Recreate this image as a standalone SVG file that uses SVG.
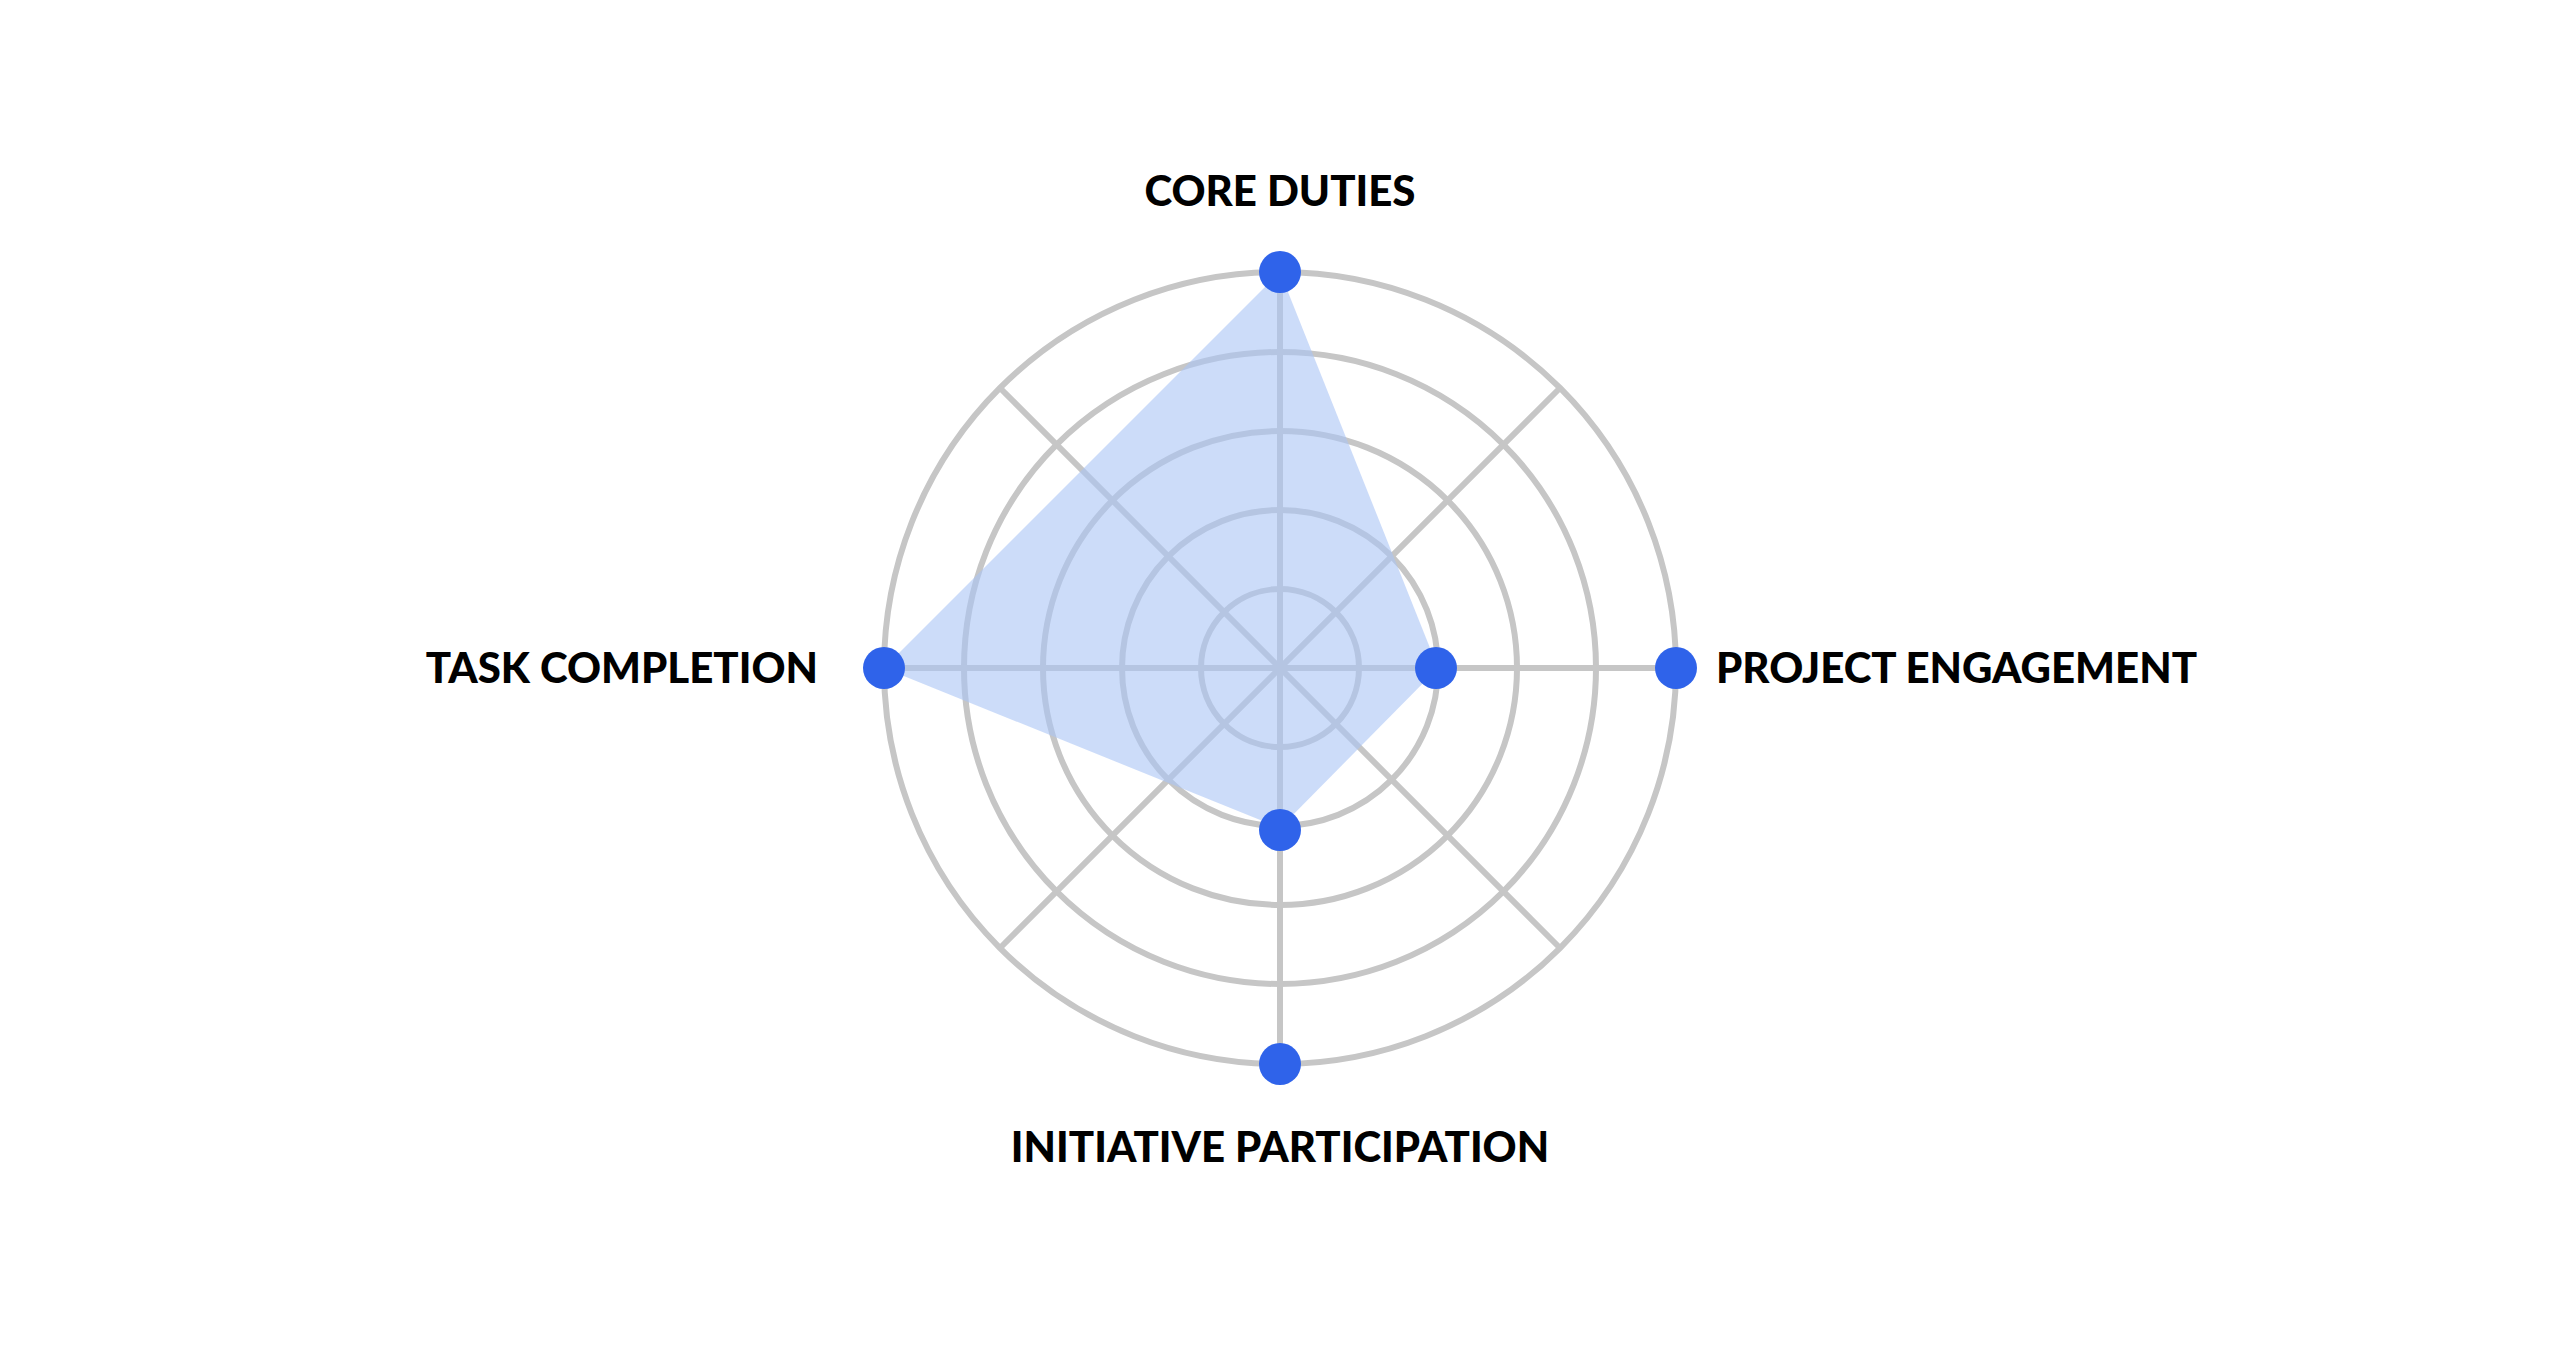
<svg xmlns="http://www.w3.org/2000/svg" width="2560" height="1364" viewBox="0 0 2560 1364">
<style>
.g{fill:none;stroke:#c6c6c6;stroke-width:6}
.d{fill:#2f63ea}
.t{font-family:Lato,"Liberation Sans",sans-serif;font-weight:900;font-size:42px;fill:#000}
</style>
<rect width="2560" height="1364" fill="#fff"/>
<g id="grid">
<circle class="g" cx="1280" cy="668" r="79"/>
<circle class="g" cx="1280" cy="668" r="158"/>
<circle class="g" cx="1280" cy="668" r="237"/>
<circle class="g" cx="1280" cy="668" r="316"/>
<circle class="g" cx="1280" cy="668" r="396"/>
<line class="g" x1="884" y1="668" x2="1676" y2="668"/>
<line class="g" x1="1280" y1="272" x2="1280" y2="1064"/>
<line class="g" x1="1000" y1="388" x2="1560" y2="948"/>
<line class="g" x1="1560" y1="388" x2="1000" y2="948"/>
</g>
<g id="connectors">
<polygon points="1280,272 1438,668 1280,828 884,668" fill="#aac4f5" fill-opacity="0.6"/>
</g>
<g id="core-duties"><circle class="d" cx="1280" cy="272" r="21"/><text class="t" x="1280" y="206" text-anchor="middle">CORE DUTIES</text></g>
<g id="project-engagement"><circle class="d" cx="1676" cy="668" r="21"/><circle class="d" cx="1436" cy="668" r="21"/><text class="t" x="1716" y="683">PROJECT ENGAGEMENT</text></g>
<g id="initiative-participation"><circle class="d" cx="1280" cy="1064" r="21"/><circle class="d" cx="1280" cy="830" r="21"/><text class="t" x="1280" y="1162" text-anchor="middle">INITIATIVE PARTICIPATION</text></g>
<g id="task-completion"><circle class="d" cx="884" cy="668" r="21"/><text class="t" x="818" y="683" text-anchor="end">TASK COMPLETION</text></g>
</svg>
